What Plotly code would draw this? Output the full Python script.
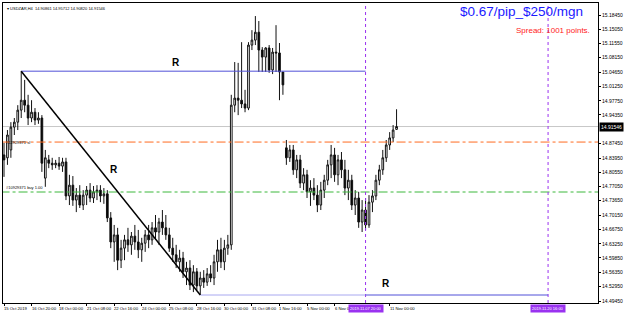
import plotly.graph_objects as go

# ---------------- data ----------------
opens = [14.847,14.840,14.859,14.914,14.926,14.955,14.979,14.967,14.936,14.950,
         14.931,14.936,14.791,14.835,14.827,14.823,14.827,14.820,14.830,14.748,
         14.774,14.738,14.750,14.726,14.750,14.762,14.743,14.758,14.762,14.748,
         14.753,14.695,14.637,14.654,14.593,14.622,14.642,14.630,14.651,14.637,
         14.618,14.634,14.654,14.642,14.671,14.661,14.685,14.671,14.654,14.622,
         14.606,14.589,14.598,14.565,14.574,14.533,14.565,14.531,14.550,14.540,
         14.560,14.550,14.589,14.618,14.589,14.622,14.630,14.967,14.984,14.979,
         14.970,14.960,15.112,15.124,15.143,15.100,15.083,15.105,15.052,15.095,
         15.093,15.047,14.864,14.840,14.859,14.811,14.835,14.779,14.799,14.758,
         14.767,14.750,14.726,14.762,14.786,14.823,14.847,14.799,14.835,14.811,
         14.767,14.786,14.726,14.743,14.685,14.714,14.678,14.733,14.748,14.786,
         14.811,14.840,14.871,14.888,14.90861]
highs = [14.876,14.907,14.926,14.936,14.967,15.049,15.028,14.992,14.979,14.960,
         14.950,14.943,14.859,14.847,14.840,14.835,14.842,14.840,14.840,14.799,
         14.796,14.767,14.774,14.762,14.772,14.779,14.772,14.774,14.774,14.767,
         14.762,14.709,14.678,14.671,14.642,14.654,14.671,14.661,14.678,14.666,
         14.647,14.666,14.678,14.685,14.702,14.695,14.714,14.702,14.671,14.647,
         14.630,14.618,14.613,14.589,14.593,14.581,14.574,14.565,14.569,14.574,
         14.581,14.606,14.642,14.647,14.642,14.654,14.992,15.071,15.069,15.119,
         15.004,15.119,15.148,15.182,15.170,15.107,15.107,15.112,15.105,15.160,
         15.117,15.047,14.883,14.871,14.871,14.847,14.847,14.815,14.811,14.786,
         14.791,14.774,14.782,14.799,14.835,14.871,14.864,14.847,14.854,14.835,
         14.811,14.799,14.762,14.758,14.738,14.743,14.750,14.762,14.799,14.823,
         14.859,14.883,14.902,14.919,14.95712]
lows = [14.794,14.823,14.840,14.895,14.907,14.936,14.950,14.919,14.926,14.919,
        14.922,14.806,14.770,14.815,14.811,14.815,14.811,14.806,14.738,14.726,
        14.724,14.709,14.719,14.714,14.726,14.733,14.731,14.738,14.733,14.729,
        14.685,14.622,14.589,14.569,14.574,14.593,14.613,14.606,14.618,14.598,
        14.589,14.613,14.622,14.630,14.642,14.630,14.654,14.642,14.613,14.589,
        14.574,14.565,14.550,14.533,14.521,14.516,14.521,14.509,14.526,14.531,
        14.540,14.533,14.565,14.574,14.569,14.606,14.618,14.950,14.943,14.960,
        14.950,14.955,15.100,15.112,15.047,15.047,15.047,15.045,15.042,15.047,
        14.979,14.992,14.823,14.830,14.799,14.791,14.767,14.762,14.743,14.724,
        14.738,14.709,14.714,14.743,14.774,14.791,14.782,14.774,14.791,14.750,
        14.738,14.714,14.702,14.671,14.661,14.666,14.671,14.709,14.738,14.774,
        14.799,14.830,14.859,14.878,14.90820]
closes = [14.835,14.895,14.914,14.926,14.955,14.979,14.967,14.936,14.950,14.931,
          14.936,14.827,14.840,14.827,14.823,14.827,14.820,14.830,14.748,14.774,
          14.738,14.750,14.726,14.750,14.762,14.743,14.758,14.762,14.748,14.753,
          14.695,14.637,14.654,14.593,14.622,14.642,14.630,14.651,14.637,14.618,
          14.634,14.654,14.642,14.671,14.661,14.685,14.671,14.654,14.622,14.606,
          14.589,14.598,14.565,14.574,14.533,14.565,14.531,14.550,14.540,14.560,
          14.550,14.589,14.618,14.589,14.622,14.630,14.967,14.984,14.979,14.970,
          14.960,15.112,15.124,15.143,15.100,15.083,15.105,15.052,15.095,15.093,
          15.047,15.016,14.840,14.859,14.811,14.835,14.779,14.799,14.758,14.767,
          14.750,14.726,14.762,14.786,14.823,14.847,14.799,14.835,14.811,14.767,
          14.786,14.726,14.743,14.685,14.714,14.678,14.733,14.748,14.786,14.811,
          14.840,14.871,14.888,14.907,14.91546]

date_labels = ["15 Oct 2019", "16 Oct 20:00", "18 Oct 00:00", "21 Oct 08:00",
               "22 Oct 16:00", "24 Oct 00:00", "25 Oct 08:00", "28 Oct 16:00",
               "30 Oct 00:00", "31 Oct 08:00", "1 Nov 16:00", "5 Nov 00:00",
               "6 Nov 08:00", "11 Nov 00:00"]
date_label_bars = [0, 8, 16, 24, 32, 40, 48, 56, 64, 72, 80, 88, 96, 112]

price_ticks = [15.18450, 15.15050, 15.11550, 15.08150, 15.04650, 15.01250, 14.97750,
               14.94350, 14.87450, 14.83950, 14.80550, 14.77050, 14.73650,
               14.70150, 14.66750, 14.63250, 14.59850, 14.56350, 14.52950, 14.49450]

current_price = 14.91546
sl_level = 14.878
buy_level = 14.7575
swing_high_bar, swing_high = 5, 15.049
swing_low_bar, swing_low = 57, 14.509
vline_bars = [105, 158]
vline_labels = ["2019.11.07 20:00", "2019.11.20 16:00"]
r_label_bars = [50, 32, 111]
r_label_prices = [15.071, 14.812, 14.536]
header = "USDZAR,H4  14.90861 14.95712 14.90820 14.91546"
title_text = "$0.67/pip_$250/mgn"
spread_text = "Spread: 1001 points."

# ---------------- figure ----------------
n = len(opens)
xs = list(range(n))

fig = go.Figure()
fig.add_trace(go.Candlestick(
    x=xs, open=opens, high=highs, low=lows, close=closes,
    increasing=dict(line=dict(color="#111111", width=1), fillcolor="#ffffff"),
    decreasing=dict(line=dict(color="#111111", width=1), fillcolor="#000000"),
    whiskerwidth=0, showlegend=False, hoverinfo="skip"))

xmax = 172.5
shapes = []
shapes.append(dict(type="line", xref="x", yref="y", x0=-1, x1=xmax, y0=current_price, y1=current_price,
                   line=dict(color="#c8c8c8", width=1), layer="below"))
shapes.append(dict(type="line", xref="x", yref="y", x0=-1, x1=xmax, y0=sl_level, y1=sl_level,
                   line=dict(color="#ff6a20", width=1, dash="dashdot")))
shapes.append(dict(type="line", xref="x", yref="y", x0=-1, x1=xmax, y0=buy_level, y1=buy_level,
                   line=dict(color="#3cb83c", width=1, dash="dashdot")))
for vb in vline_bars:
    shapes.append(dict(type="line", xref="x", yref="paper", x0=vb, x1=vb, y0=0, y1=1,
                       line=dict(color="#9a32f0", width=1, dash="dot")))
shapes.append(dict(type="line", xref="x", yref="y", x0=swing_high_bar, x1=vline_bars[0],
                   y0=swing_high, y1=swing_high, line=dict(color="#5050d8", width=1)))
shapes.append(dict(type="line", xref="x", yref="y", x0=swing_low_bar, x1=vline_bars[0],
                   y0=swing_low, y1=swing_low, line=dict(color="#a8a8f0", width=1)))
shapes.append(dict(type="line", xref="x", yref="y", x0=vline_bars[0], x1=vline_bars[1],
                   y0=swing_low, y1=swing_low, line=dict(color="#5050d8", width=1)))
shapes.append(dict(type="line", xref="x", yref="y", x0=swing_high_bar, x1=swing_low_bar,
                   y0=swing_high, y1=swing_low, line=dict(color="#000000", width=1.5)))

ann = []
for b, t in zip(date_label_bars, date_labels):
    ann.append(dict(x=b, y=0, xref="x", yref="paper", text=t, showarrow=False,
                    xanchor="left", yanchor="top", yshift=-1, xshift=-2,
                    font=dict(size=4.2, color="#000000", family="Arial")))
for vb, t in zip(vline_bars, vline_labels):
    ann.append(dict(x=vb, y=0, xref="x", yref="paper", text=t, showarrow=False,
                    xanchor="center", yanchor="top", yshift=-1,
                    bgcolor="#9a32f0", borderpad=1,
                    font=dict(size=4, color="#ffffff", family="Arial")))
ann.append(dict(x=1, y=current_price, xref="paper", yref="y", text=f"{current_price:.5f}",
                showarrow=False, xanchor="left", yanchor="middle", xshift=1,
                bgcolor="#000000", borderpad=1,
                font=dict(size=5, color="#ffffff", family="Arial")))
for bx, py in zip(r_label_bars, r_label_prices):
    ann.append(dict(x=bx, y=py, xref="x", yref="y", text="<b>R</b>", showarrow=False,
                    font=dict(size=10, color="#000000", family="Arial")))
ann.append(dict(x=0, y=sl_level, xref="paper", yref="y", text="#12929371 sl", showarrow=False,
                xanchor="left", yanchor="middle", xshift=1, font=dict(size=4, color="#000000", family="Arial")))
ann.append(dict(x=0, y=buy_level, xref="paper", yref="y", text="#10929371 buy 1.00", showarrow=False,
                xanchor="left", yanchor="bottom", xshift=1, font=dict(size=4, color="#000000", family="Arial")))
ann.append(dict(x=0, y=1, xref="paper", yref="paper", text="▾ " + header, showarrow=False,
                xanchor="left", yanchor="top", xshift=2, yshift=-1,
                font=dict(size=4, color="#000000", family="Arial")))
ann.append(dict(x=0.9775, y=0.972, xref="paper", yref="paper", text=title_text, showarrow=False,
                xanchor="right", yanchor="middle", font=dict(size=13.5, color="#1a1aff", family="Arial")))
ann.append(dict(x=0.9905, y=0.908, xref="paper", yref="paper", text=spread_text, showarrow=False,
                xanchor="right", yanchor="middle", font=dict(size=8, color="#ff1a1a", family="Arial")))

fig.update_layout(
    width=625, height=314,
    margin=dict(l=2, r=25, t=3, b=11),
    paper_bgcolor="#ffffff", plot_bgcolor="#ffffff",
    shapes=shapes, annotations=ann,
    xaxis=dict(range=[-0.29, xmax], showgrid=False, zeroline=False,
               rangeslider=dict(visible=False),
               tickvals=date_label_bars, showticklabels=False,
               ticks="outside", ticklen=2, tickcolor="#000000",
               showline=True, linecolor="#000000", linewidth=1, mirror=True),
    yaxis=dict(range=[14.4897, 15.2135], side="right", showgrid=False, zeroline=False,
               tickvals=price_ticks, ticktext=[f"{v:.5f}" for v in price_ticks],
               ticks="outside", ticklen=2, tickcolor="#000000",
               tickfont=dict(size=5, color="#000000", family="Arial"),
               showline=True, linecolor="#000000", linewidth=1, mirror=True),
    hovermode=False,
)

fig.write_html("out.html")
